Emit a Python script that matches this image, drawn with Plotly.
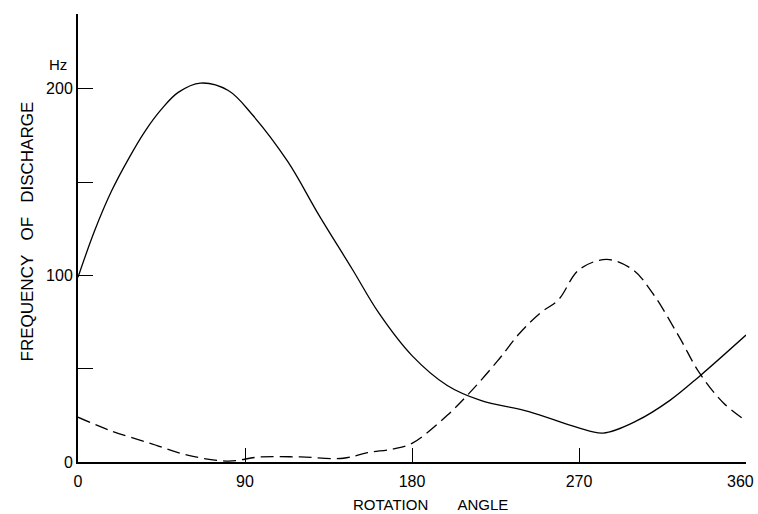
import plotly.graph_objects as go

# Solid curve (frequency of discharge, series A)
solid_angle = [0, 9, 18, 27, 36, 45, 54, 66, 81, 94, 113, 130, 148, 162, 180, 199, 217, 243, 269, 283, 301, 319, 335, 360]
solid_freq = [99, 124, 145, 162, 177, 189, 198, 203, 199, 186, 161, 132, 103, 80, 57, 41, 33, 27, 18.5, 15.5, 22, 33, 46, 68]

# Dashed curve (series B)
dash_angle = [0, 17, 39, 59, 81, 98, 120, 143, 156, 170, 180, 199, 211, 226, 238, 249, 259, 270, 285, 299, 310, 324, 335, 348, 360]
dash_freq = [24, 17, 10, 3.7, 0.5, 2.7, 2.7, 2, 5, 7, 10, 25, 37, 54, 69, 79.7, 87, 103, 108.5, 103, 90, 67, 47.6, 31.5, 22]

x_ticks = [0, 90, 180, 270, 360]
x_ticklabels = ["0", "90", "180", "270", "360"]
y_ticks = [0, 50, 100, 150, 200]
y_ticklabels = ["0", "", "100", "", "200"]

font = "Liberation Sans, Arial, sans-serif"
NB = "\u00a0"

fig = go.Figure()
fig.add_trace(go.Scatter(x=solid_angle, y=solid_freq, mode="lines",
                         line=dict(color="black", width=1.3, shape="spline", smoothing=1.0),
                         showlegend=False, hoverinfo="skip"))
fig.add_trace(go.Scatter(x=dash_angle, y=dash_freq, mode="lines",
                         line=dict(color="black", width=1.3, shape="spline", smoothing=1.0, dash="13px,6px"),
                         showlegend=False, hoverinfo="skip"))

# last tick label is drawn as an annotation so it stays inside the page
axis_ticktext = x_ticklabels[:-1] + [""]

fig.update_layout(
    width=758, height=514,
    margin=dict(l=78, r=12, t=14, b=52),
    plot_bgcolor="white", paper_bgcolor="white",
    font=dict(family=font, size=16, color="black"),
    xaxis=dict(range=[0, 360], tickvals=x_ticks, ticktext=axis_ticktext, automargin=False,
               ticks="inside", ticklen=14, tickwidth=1.3, tickcolor="black",
               ticklabelstandoff=4,
               showline=True, linecolor="black", linewidth=2, showgrid=False, zeroline=False,
               tickfont=dict(size=16)),
    yaxis=dict(range=[0, 240], tickvals=y_ticks, ticktext=y_ticklabels, automargin=False,
               ticks="inside", ticklen=15, tickwidth=1.3, tickcolor="black",
               showline=True, linecolor="black", linewidth=2, showgrid=False, zeroline=False,
               tickfont=dict(size=16)),
    annotations=[
        dict(text=x_ticklabels[-1], xref="x", x=x_ticks[-1], yref="paper", y=0,
             xanchor="right", yanchor="top", xshift=10, yshift=-9, showarrow=False,
             font=dict(size=16)),
        dict(text="Hz", xref="paper", x=0, yref="y", y=213, xanchor="right",
             xshift=-9, showarrow=False, font=dict(size=15)),
        dict(text="ROTATION" + NB * 7 + "ANGLE", xref="x", x=189.7, yref="paper", y=0,
             xanchor="center", yanchor="middle", yshift=-42, showarrow=False, font=dict(size=15)),
        dict(text="FREQUENCY" + NB * 3 + "OF" + NB * 3 + "DISCHARGE", xref="paper", x=0, yref="y", y=123.5,
             xanchor="center", yanchor="middle", xshift=-51, textangle=-90, showarrow=False,
             font=dict(size=17)),
    ],
)

fig.write_html("out.html")
